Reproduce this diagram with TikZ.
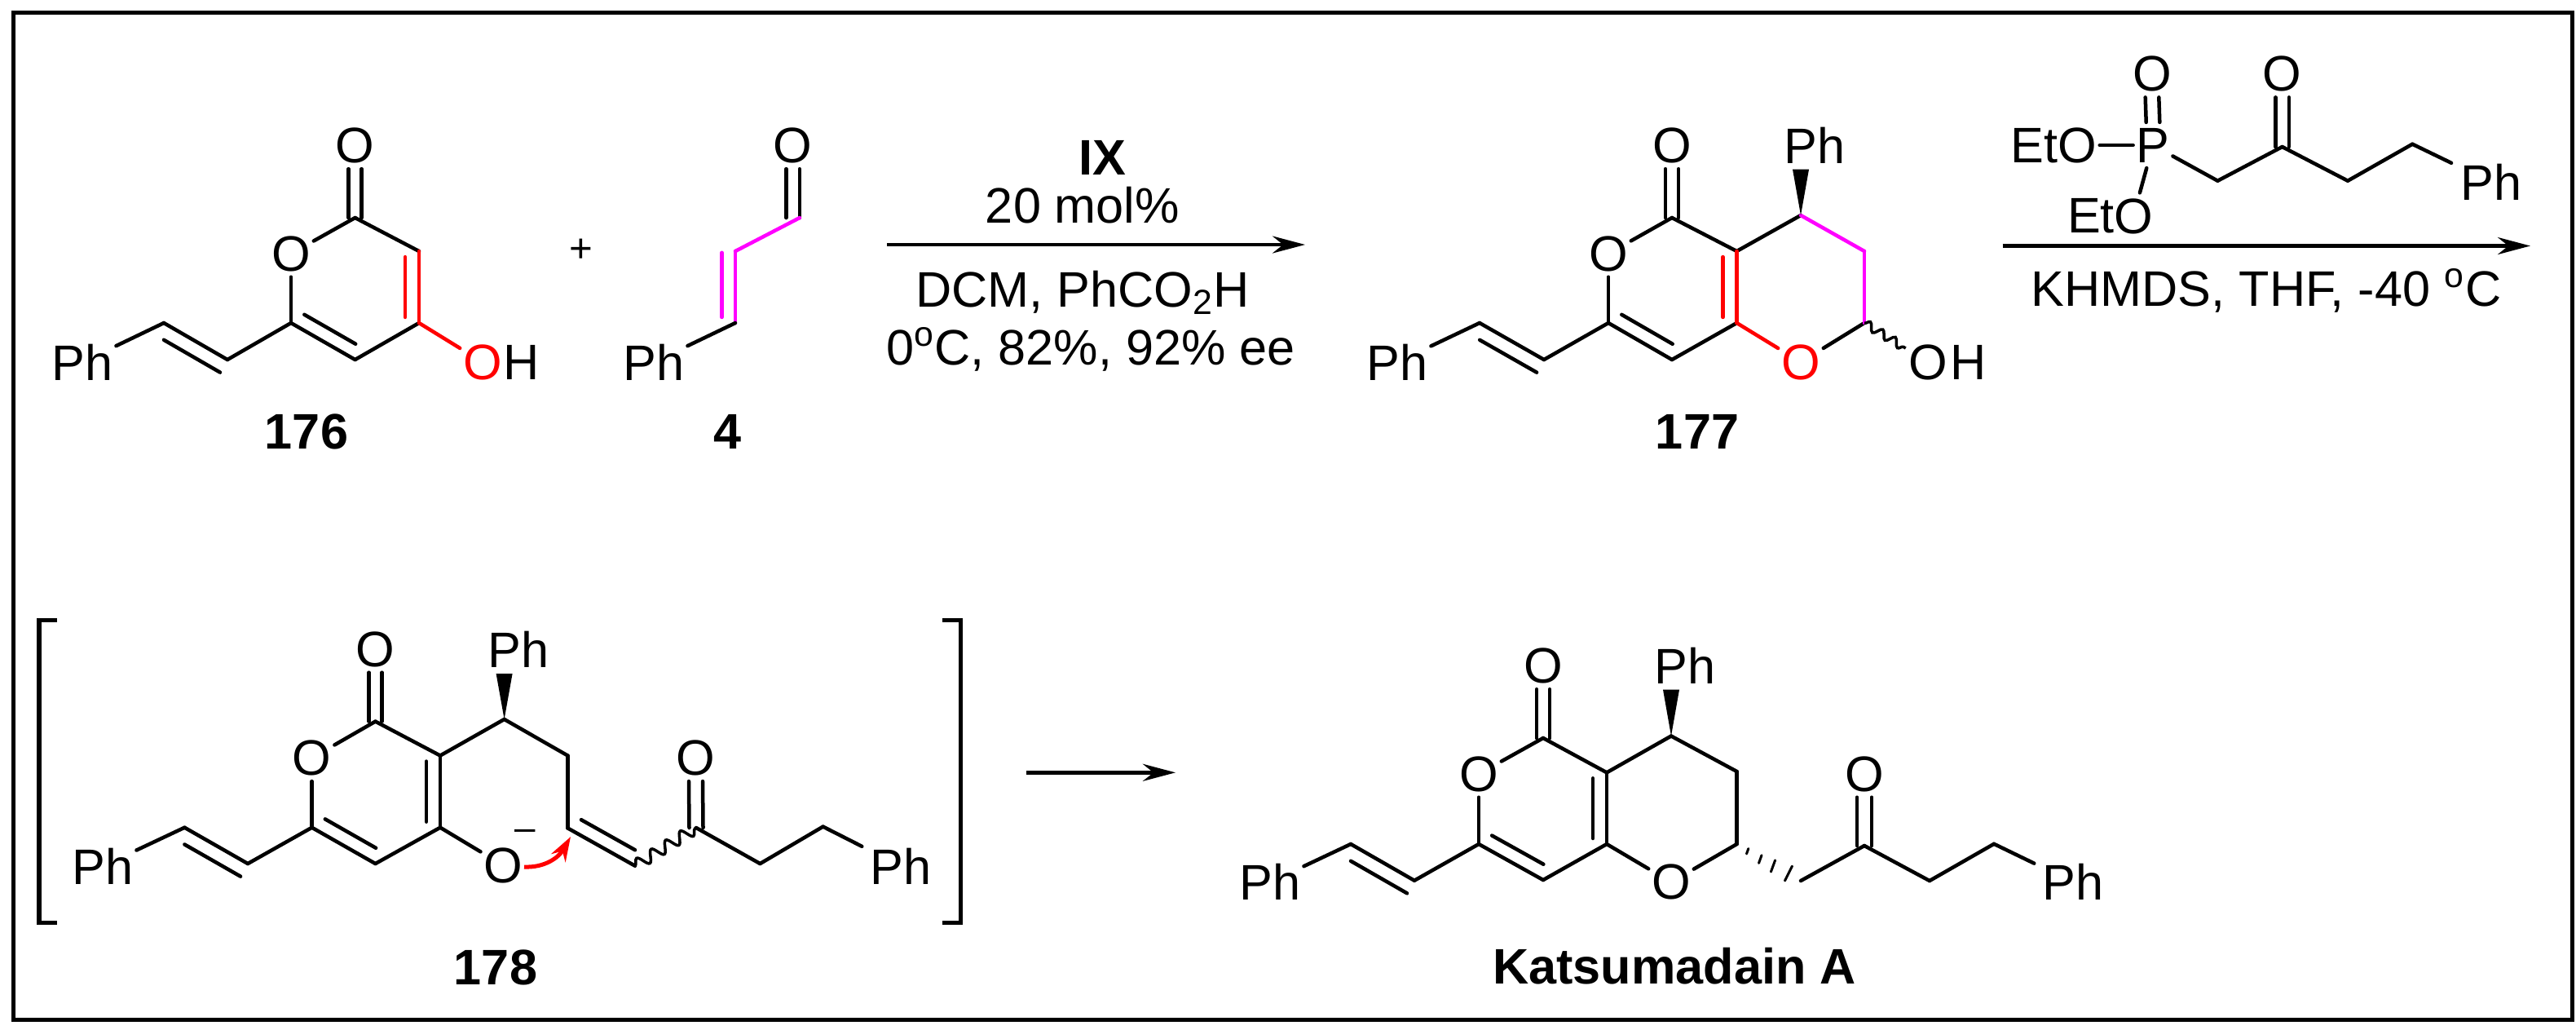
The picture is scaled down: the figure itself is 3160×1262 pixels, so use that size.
\documentclass[tikz,border=0pt]{standalone}
\usepackage{fontspec}
\setmainfont{Liberation Sans}
\usetikzlibrary{arrows.meta,calc,decorations.pathmorphing}
\definecolor{cred}{RGB}{255,0,0}
\definecolor{cpink}{RGB}{255,0,255}
\tikzset{
    atom/.style={font=\fontsize{17.4}{20}\selectfont,inner sep=0pt,outer xsep=.04cm,outer ysep=.07cm},
    txt/.style={font=\fontsize{17.4}{20}\selectfont,inner sep=0pt,anchor=base},
    bond/.style={line width=.045cm,line cap=round},
    wavy/.style={line width=.035cm,decorate,decoration={snake,segment length=.21cm,amplitude=.07cm}},
    brk/.style={line width=.05cm,line join=miter},
    rxn/.style={line width=.045cm,->}
}
% second line of a double bond: from, to, cut at start, cut at end, offset
\newcommand{\innerbond}[6][]{\draw[bond,#1]($(#2)!#4!(#3)!#6!90:(#3)$)--($(#3)!#5!(#2)!#6!-90:(#2)$);}
\newcommand{\carbonyl}[3]{\foreach \s in {-#3,#3}{\draw[bond]([xshift=\s cm]#1)--([xshift=\s cm]#2.south);}}
\newcommand{\wedgebond}[2]{\fill($(#1|-#2.south)+(-10,0)$)--(#1)--($(#1|-#2.south)+(10,0)$)--cycle;}
\begin{document}
\begin{tikzpicture}[x=.01cm,y=-.01cm,>={Stealth[length=.4cm,width=.21cm]}]
    \useasboundingbox(0,0)rectangle(3160,1262);
    \node[draw,line width=.05cm,minimum width=31.375cm,minimum height=12.35cm,inner sep=0pt](frame)at(1586.25,633){};

    % 176
    \foreach \n/\x/\y in {a2/435.6/267,a3/514/308,a4/514/396,a5/435.6/441,a6/357/396,a7/279/441,a8/201/396}
        \coordinate(\n)at(\x,\y);
    \foreach \n/\x/\y/\t in {ao2/435.6/178.5/O,ao1/357/311/O,aph/101/444/Ph,ah/640/444/H}
        \node[atom](\n)at(\x,\y){\t};
    \node[atom,cred](aoh)at(592,444){O};
    \foreach \a/\b in {a2/a3,a4/a5,a5/a6,a6/a7,a7/a8,a8/aph,ao1/a2,ao1/a6}
        \draw[bond](\a)--(\b);
    \foreach \a/\b in {a3/a4,a4/aoh}
        \draw[bond,cred](\a)--(\b);
    \carbonyl{a2}{ao2}{.08}
    \innerbond{a6}{a5}{.1}{.1}{.17cm}
    \innerbond[cred]{a3}{a4}{.08}{.08}{-.17cm}
    \innerbond{a8}{a7}{.115}{0}{-.18cm}
    \node[txt](l176)at(376,550){\bfseries 176};

    \node[font=\fontsize{14}{16}\selectfont,inner sep=0pt](plus)at(713,307){+};

    % 4
    \foreach \n/\x/\y in {b0/972.6/267,b1/981/267,b2/902/308,b3/902/396}
        \coordinate(\n)at(\x,\y);
    \node[atom](bo)at(972.6,178.5){O};
    \node[atom](bph)at(802,444){Ph};
    \carbonyl{b0}{bo}{.083}
    \foreach \a/\b in {b1/b2,b2/b3}
        \draw[bond,cpink](\a)--(\b);
    \draw[bond](b3)--(bph);
    \innerbond[cpink]{b2}{b3}{.02}{.08}{-.165cm}
    \node[txt](l4)at(893,550){\bfseries 4};

    % first arrow
    \coordinate(r1a)at(1088,300);
    \coordinate(r1b)at(1601,300);
    \draw[rxn](r1a)--(r1b);
    \node[txt](rix)at(1352,214){\bfseries IX};
    \node[txt](rmol)at(1328,273){20 mol\%};
    \node[txt](rdcm)at(1328,376){DCM, PhCO\textsubscript{2}H};
    \node[txt](rtemp)at(1338,447){0\textsuperscript{o}C, 82\%, 92\% ee};

    % 177
    \foreach \n/\x/\y in {c2/2051/267,c3/2130.5/308,c4/2130.5/396,c5/2051/441,c6/1973/396,c7/1894/441,c8/1815/396,cch/2209/264,cch2/2287/308,cc/2287/396}
        \coordinate(\n)at(\x,\y);
    \foreach \n/\x/\y/\t in {co2/2051/178.5/O,co1/1973/311/O,cph/1714/444/Ph,cpp/2226/178.5/Ph,coh/2365.5/444/O,chh/2415/444/H}
        \node[atom](\n)at(\x,\y){\t};
    \node[atom,cred](cor)at(2209,444){O};
    \foreach \a/\b in {c2/c3,c4/c5,c5/c6,c6/c7,c7/c8,c8/cph,co1/c2,co1/c6,c3/cch,cor/cc}
        \draw[bond](\a)--(\b);
    \foreach \a/\b in {c3/c4,c4/cor}
        \draw[bond,cred](\a)--(\b);
    \foreach \a/\b in {cch/cch2,cch2/cc}
        \draw[bond,cpink](\a)--(\b);
    \carbonyl{c2}{co2}{.08}
    \innerbond{c6}{c5}{.1}{.1}{.17cm}
    \innerbond[cred]{c3}{c4}{.08}{.08}{-.17cm}
    \innerbond{c8}{c7}{.115}{0}{-.18cm}
    \wedgebond{cch}{cpp}
    \draw[wavy,decoration={segment length=.18cm,amplitude=.05cm}](cc)--(coh);
    \node[txt](l177)at(2082,550){\bfseries 177};

    % phosphonate
    \foreach \n/\x/\y in {d1/2720.4/221.7,d2/2799.6/180,d3/2880/221.7,d4/2959.3/176.7}
        \coordinate(\n)at(\x,\y);
    \foreach \n/\x/\y/\t in {dp/2641/178/P,do1/2640/90.7/O,do2/2799.6/90.7/O,deta/2519/178/EtO,det/2565/265/Et,dob/2617/265/O,dph/3055.7/223.3/Ph}
        \node[atom](\n)at(\x,\y){\t};
    \foreach \a/\b in {deta/dp,dp/d1,d1/d2,d2/d3,d3/d4,dp/dob}
        \draw[bond](\a)--(\b);
    \draw[bond,shorten >=.08cm](d4)--(dph);
    \carbonyl{dp.north}{do1}{.083}
    \carbonyl{d2}{do2}{.083}

    % second arrow
    \coordinate(r2a)at(2456.5,301.5);
    \coordinate(r2b)at(3104,301.5);
    \draw[rxn](r2a)--(r2b);
    \node[txt](rkh)at(2780,375){KHMDS, THF, -40 \textsuperscript{o}C};

    % 178
    \draw[brk](70,760)--(48,760)--(48,1131.5)--(70,1131.5);
    \draw[brk](1156,760)--(1178.6,760)--(1178.6,1131.5)--(1156,1131.5);
    \foreach \n/\x/\y in {e2/460.5/884.6,e3/540/926.5,e4/540/1014.7,e5/460.5/1059,e6/382.6/1014.7,e7/304/1059,e8/226.4/1014.7,ech/618.6/882,ecm/696.4/926.5,ec1/696.4/1015.4,ec2/779/1061.7,ec3/854/1015,ec4/932.4/1059,ec5/1009.6/1013.6}
        \coordinate(\n)at(\x,\y);
    \foreach \n/\x/\y/\t in {eph/126/1062/Ph,eo2/460.5/796/O,eo1/382.6/929.4/O,epp/636/796.8/Ph,eoo/853.5/929.4/O,eor/617.3/1061/O,eph2/1105/1062/Ph}
        \node[atom](\n)at(\x,\y){\t};
    \foreach \a/\b in {e2/e3,e3/e4,e4/e5,e5/e6,e6/e7,e7/e8,e8/eph,eo1/e2,eo1/e6,e3/ech,ech/ecm,ecm/ec1,ec1/ec2,e4/eor,ec3/ec4,ec4/ec5}
        \draw[bond](\a)--(\b);
    \draw[bond,shorten >=.07cm](ec5)--(eph2);
    \carbonyl{e2}{eo2}{.08}
    \carbonyl{ec3}{eoo}{.085}
    \innerbond{e6}{e5}{.1}{.1}{.17cm}
    \innerbond{e3}{e4}{.08}{.08}{-.17cm}
    \innerbond{e8}{e7}{.115}{0}{-.18cm}
    \innerbond{ec1}{ec2}{.1}{.1}{.17cm}
    \wedgebond{ech}{epp}
    \draw[wavy](ec2)--(ec3);
    \node[font=\fontsize{13}{15}\selectfont,inner sep=0pt,text height=.24cm,text depth=0pt](eminus)at(644,1018.5){--};
    \coordinate(arra)at(643,1063);
    \coordinate(arrb)at(700,1026);
    \draw[cred,line width=.05cm,-{Stealth[length=.3cm,width=.2cm]}](arra)..controls(668,1064)and(685,1052)..(arrb);
    \node[txt](l178)at(608,1207){\bfseries 178};

    % third arrow
    \coordinate(r3a)at(1259,947.3);
    \coordinate(r3b)at(1442,947.3);
    \draw[rxn](r3a)--(r3b);

    % Katsumadain A
    \foreach \n/\x/\y in {f2/1893/905,f3/1971/947.3,f4/1971/1035,f5/1893/1079,f6/1814/1035,f7/1735/1079.7,f8/1657/1035,fch/2050/902.5,fcm/2130.6/946,fc1/2130.6/1035,fc2/2209/1080,fc3/2287/1037,fc4/2367/1080,fc5/2446/1034.8}
        \coordinate(\n)at(\x,\y);
    \foreach \n/\x/\y/\t in {fph/1558/1081.7/Ph,fo2/1893/816.5/O,fo1/1814/949/O,fpp/2067/816.5/Ph,foo/2287/949/O,fro/2050/1081.7/O,fph2/2543/1081.7/Ph}
        \node[atom](\n)at(\x,\y){\t};
    \foreach \a/\b in {f2/f3,f3/f4,f4/f5,f5/f6,f6/f7,f7/f8,f8/fph,fo1/f2,fo1/f6,f3/fch,fch/fcm,fcm/fc1,f4/fro,fro/fc1,fc2/fc3,fc3/fc4,fc4/fc5}
        \draw[bond](\a)--(\b);
    \draw[bond,shorten >=.07cm](fc5)--(fph2);
    \carbonyl{f2}{fo2}{.08}
    \carbonyl{fc3}{foo}{.09}
    \innerbond{f6}{f5}{.1}{.1}{.17cm}
    \innerbond{f3}{f4}{.08}{.08}{-.17cm}
    \innerbond{f8}{f7}{.115}{0}{-.18cm}
    \wedgebond{fch}{fpp}
    \foreach \xa/\ya/\xb/\yb in {2144.8/1040.5/2142.5/1047,2161/1048.7/2157.5/1058.4,2177.6/1054.8/2172.4/1069,2198.5/1062/2189.5/1080}
        \draw[bond,line width=.03cm](\xa,\ya)--(\xb,\yb);
    \node[txt](lkat)at(2054,1206){\bfseries Katsumadain A};
\end{tikzpicture}
\end{document}
